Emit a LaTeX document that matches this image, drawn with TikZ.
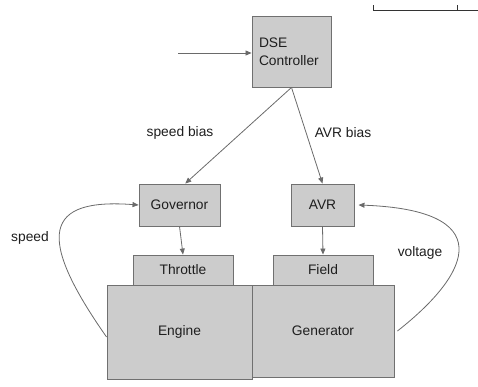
\documentclass[tikz,border=0pt]{standalone}
\usepackage{fontspec}
\setmainfont{Liberation Sans}
\usetikzlibrary{arrows.meta,positioning}
\definecolor{boxfill}{HTML}{CCCCCC}
\definecolor{boxline}{HTML}{707070}
\definecolor{linegray}{HTML}{6A6A6A}
\definecolor{txt}{HTML}{1E1E1E}

\begin{document}
\begin{tikzpicture}[x=1pt,y=-1pt,font=\fontsize{13.8}{17.5}\selectfont,text=txt,
  box/.style={draw=boxline,fill=boxfill,line width=0.9pt,inner sep=0pt},
  con/.style={draw=linegray,line width=0.8pt,-{Triangle[length=6pt,width=5pt]}},
  lbl/.style={inner sep=0pt}]
\useasboundingbox (0,0) rectangle (478,386);
%\draw[help lines] (0,0) grid[step=50] (478,386);
%
\node[box,minimum width=79pt,minimum height=71pt,text width=65pt,align=left] (ctrl) at (291.5,51.5) {DSE\\Controller};
\node[box,minimum width=81pt,minimum height=42pt] (gov) at (179.5,205) {Governor};
\node[box,minimum width=63pt,minimum height=42pt] (avr) at (322.5,205) {AVR};
\node[box,minimum width=100pt,minimum height=30pt] (thr) at (183,270) {Throttle};
\node[box,minimum width=100pt,minimum height=30pt] (fld) at (323,270) {Field};
\node[box,minimum width=145pt,minimum height=94pt] (eng) at (179.5,332) {Engine};
\node[box,minimum width=142pt,minimum height=92pt] (gen) at (323,331) {Generator};
%
\node[lbl] (sbias) at (180,133) {speed bias};
\node[lbl] (abias) at (343,133) {AVR bias};
\node[lbl] (spd) at (30,238) {speed};
\node[lbl] (vlt) at (420,253) {voltage};
%
\coordinate (in) at (178,53);
\draw[con] (in) -- (ctrl.west |- in);
\draw[con] (ctrl.south) -- (gov.75);
\draw[con] (ctrl.south) -- (avr.north);
\draw[con] (gov.south) -- (thr.north);
\draw[con] (avr.south) -- (fld.north);
\draw[con] ([yshift=-5pt]eng.west) .. controls (35,235) and (45,198) .. (gov.west);
\draw[con] ([xshift=3pt]gen.east) .. controls (475,270) and (495,210) .. ([xshift=4pt]avr.east);
%
% scale bar at the top
\draw[line width=0.8pt,black!80] (373,5) -- (373,10) -- (478,10) (457,5) -- (457,10);
\end{tikzpicture}
\end{document}
